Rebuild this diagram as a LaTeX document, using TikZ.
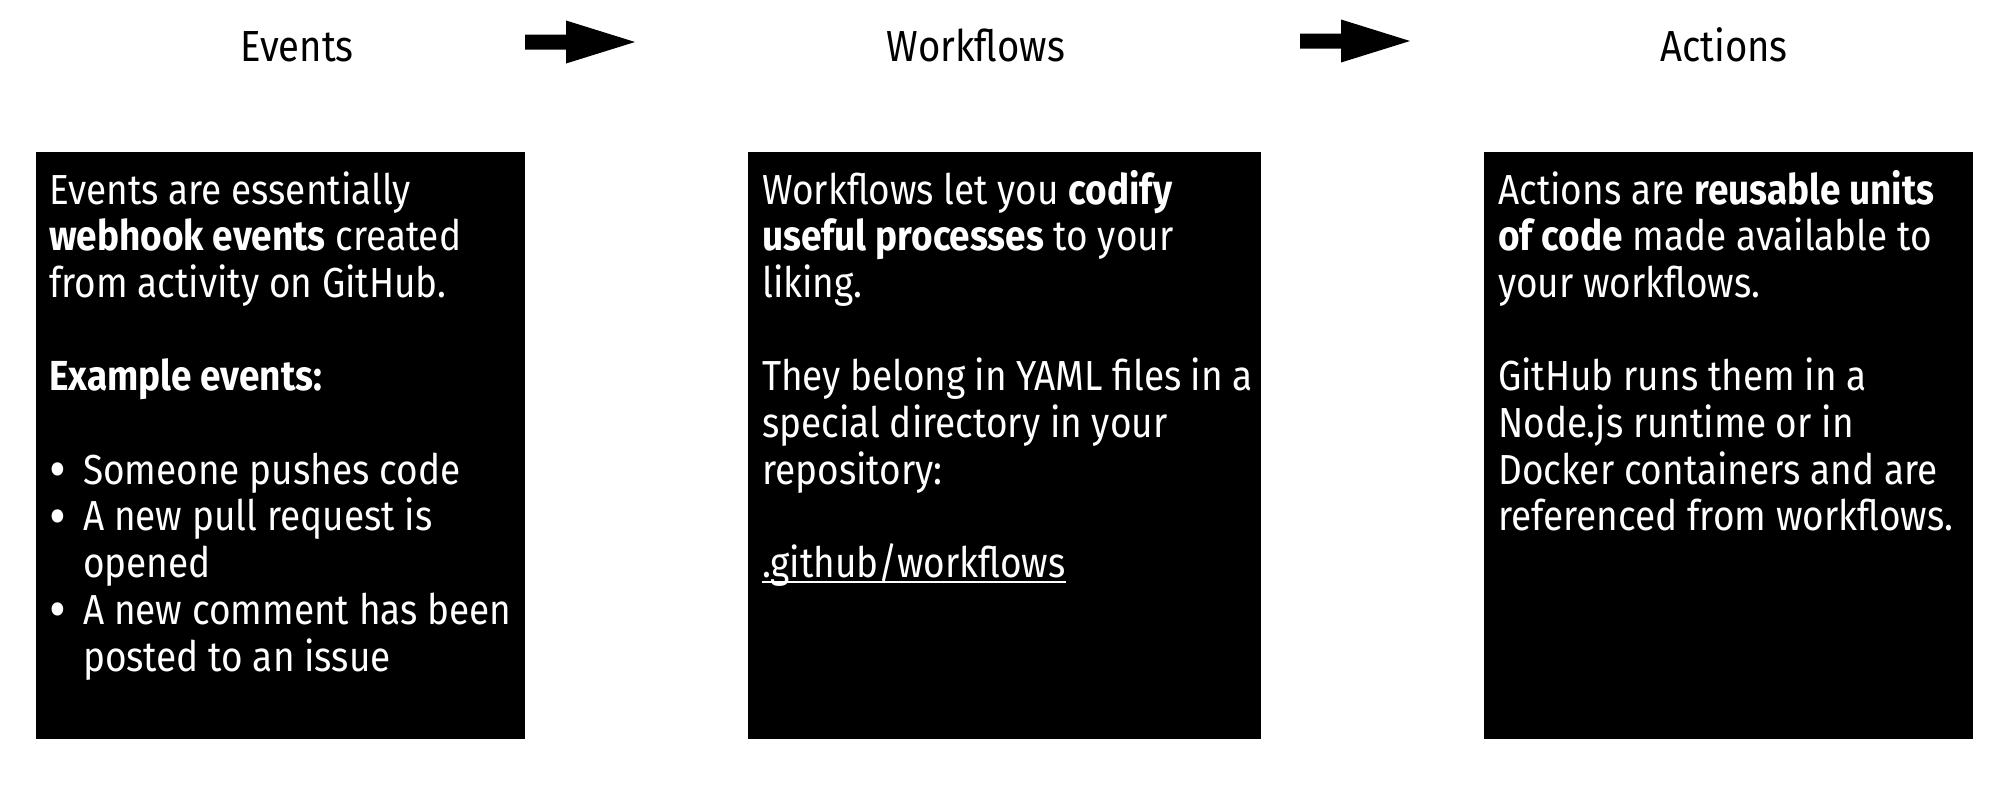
\documentclass[tikz,border=0pt]{standalone}
\usepackage{fontspec}
\usepackage{graphicx}
\setmainfont{Fira Sans}[FakeStretch=0.88]
\newcommand\bul{\makebox[34pt][l]{\raisebox{-0.13em}{\scalebox{1.4}{•}}}}
\newcommand\ind{\hspace*{34pt}}
\begin{document}
\begin{tikzpicture}[x=1pt,y=-1pt,
  panel/.style={fill=black},
  title/.style={font=\fontsize{43.5}{50}\selectfont, anchor=base, inner sep=0pt},
  body/.style={text=white, anchor=base west, inner sep=0pt, font=\fontsize{42}{46.7}\selectfont},
  blockarrow/.style={fill=black},
  uline/.style={draw=white, line width=1.8pt}]
\useasboundingbox (0,0) rectangle (2008,790);
% panels
\path[panel] (36,152) rectangle (525,739);
\path[panel] (748,152) rectangle (1261,739);
\path[panel] (1484,152) rectangle (1973,739);
% titles
\node[title] (tev) at (297,61) {Events};
\node[title] (twf) at (976,61) {Workflows};
\node[title] (tac) at (1724,61) {Actions};
% block arrows
\coordinate (a1) at (525,42);
\coordinate (a2) at (1300,41);
\fill[blockarrow] (a1) ++(0,-7.5) -- ++(41,0) -- ++(0,-14) -- ++(69,21.5) -- ++(-69,21.5) -- ++(0,-14) -- ++(-41,0) -- cycle;
\fill[blockarrow] (a2) ++(0,-7.5) -- ++(41,0) -- ++(0,-14) -- ++(69,21.5) -- ++(-69,21.5) -- ++(0,-14) -- ++(-41,0) -- cycle;
% texts
\node[body] (bev) at (49,204) {\parbox[t]{470pt}{\raggedright
Events are essentially\\
\textbf{webhook events} created\\
from activity on GitHub.\\
~\\
\textbf{Example events:}\\
~\\
\bul Someone pushes code\\
\bul A new pull request is\\
\ind opened\\
\bul A new comment has been\\
\ind posted to an issue}};
\node[body] (bwf) at (762,204) {\parbox[t]{490pt}{\raggedright
Workflows let you \textbf{codify}\\
\textbf{useful processes} to your\\
liking.\\
~\\
They belong in YAML files in a\\
special directory in your\\
repository:}};
\node[body] (gh) at (762,577.6) {.github/workflows};
\draw[uline] ([yshift=-4pt]gh.base west) -- ([yshift=-4pt]gh.base east);
\node[body] (bac) at (1498,204) {\parbox[t]{470pt}{\raggedright
Actions are \textbf{reusable units}\\
\textbf{of code} made available to\\
your workflows.\\
~\\
GitHub runs them in a\\
Node.js runtime or in\\
Docker containers and are\\
referenced from workflows.}};
\end{tikzpicture}
\end{document}
